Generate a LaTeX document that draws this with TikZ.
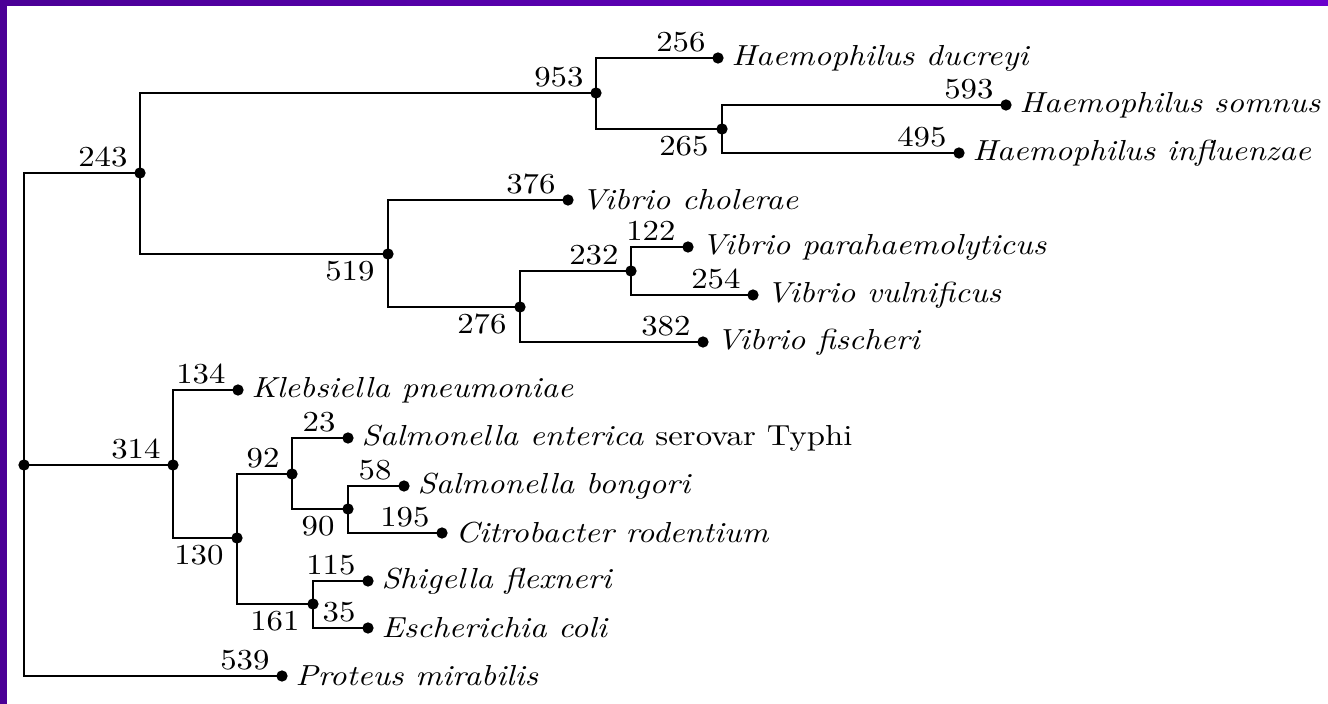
\documentclass[tikz,border=0pt]{standalone}
\usepackage{graphicx}
\definecolor{pleft}{HTML}{4B0096}
\definecolor{pright}{HTML}{6A00CC}
\newcommand{\sxt}[1]{\scalebox{1.13}[1]{#1}}
\tikzset{
  branch/.style={line width=0.69pt, black},
  dotnode/.style={circle, fill=black, inner sep=0pt, minimum size=3.9pt},
  taxon/.style={anchor=west, inner sep=0pt, font=\itshape},
  num/.style={anchor=base east, inner sep=0pt},
}
\begin{document}
\begin{tikzpicture}[x=0.345pt, y=-0.345pt]
\useasboundingbox (0,0) rectangle (1328,704);
\fill[white] (0,0) rectangle (1328,704);
\shade[left color=pleft, right color=pright] (0,0) rectangle (1328,6);
\fill[pleft] (0,0) rectangle (7,704);

% tree nodes
\node[dotnode] (root) at (24,465) {};
\node[dotnode] (n243) at (140,173) {};
\node[dotnode] (n953) at (596,93) {};
\node[dotnode] (duc) at (718,58) {};
\node[dotnode] (n265) at (722,129) {};
\node[dotnode] (som) at (1006,105) {};
\node[dotnode] (inf) at (959,153) {};
\node[dotnode] (n519) at (388,254) {};
\node[dotnode] (chol) at (568,200) {};
\node[dotnode] (n276) at (520,307) {};
\node[dotnode] (n232) at (631,271) {};
\node[dotnode] (para) at (688,247) {};
\node[dotnode] (vuln) at (753,295) {};
\node[dotnode] (fisch) at (703,342) {};
\node[dotnode] (n314) at (173,465) {};
\node[dotnode] (kleb) at (238,390) {};
\node[dotnode] (n130) at (237,538) {};
\node[dotnode] (n92) at (292,474) {};
\node[dotnode] (sent) at (348,438) {};
\node[dotnode] (n90) at (348,509) {};
\node[dotnode] (bong) at (404,486) {};
\node[dotnode] (citro) at (442,533) {};
\node[dotnode] (n161) at (313,604) {};
\node[dotnode] (shig) at (368,581) {};
\node[dotnode] (ecoli) at (368,628) {};
\node[dotnode] (prot) at (282,676) {};

% branches
\draw[branch] (root.center) |- (n243.center);
\draw[branch] (root.center) -- (n314.center);
\draw[branch] (root.center) |- (prot.center);
\draw[branch] (n243.center) |- (n953.center);
\draw[branch] (n243.center) |- (n519.center);
\draw[branch] (n953.center) |- (duc.center);
\draw[branch] (n953.center) |- (n265.center);
\draw[branch] (n265.center) |- (som.center);
\draw[branch] (n265.center) |- (inf.center);
\draw[branch] (n519.center) |- (chol.center);
\draw[branch] (n519.center) |- (n276.center);
\draw[branch] (n276.center) |- (n232.center);
\draw[branch] (n276.center) |- (fisch.center);
\draw[branch] (n232.center) |- (para.center);
\draw[branch] (n232.center) |- (vuln.center);
\draw[branch] (n314.center) |- (kleb.center);
\draw[branch] (n314.center) |- (n130.center);
\draw[branch] (n130.center) |- (n92.center);
\draw[branch] (n130.center) |- (n161.center);
\draw[branch] (n92.center) |- (sent.center);
\draw[branch] (n92.center) |- (n90.center);
\draw[branch] (n90.center) |- (bong.center);
\draw[branch] (n90.center) |- (citro.center);
\draw[branch] (n161.center) |- (shig.center);
\draw[branch] (n161.center) |- (ecoli.center);

% branch numbers above
\node[num] (l243) at (128,167) {\sxt{243}};
\node[num] (l953) at (584,87) {\sxt{953}};
\node[num] (l256) at (706,52) {\sxt{256}};
\node[num] (l593) at (994,99) {\sxt{593}};
\node[num] (l495) at (947,147) {\sxt{495}};
\node[num] (l376) at (556,194) {\sxt{376}};
\node[num] (l232) at (619,265) {\sxt{232}};
\node[num] (l122) at (676,241) {\sxt{122}};
\node[num] (l254) at (741,289) {\sxt{254}};
\node[num] (l382) at (691,336) {\sxt{382}};
\node[num] (l314) at (161,459) {\sxt{314}};
\node[num] (l134) at (226,384) {\sxt{134}};
\node[num] (l92) at (280,468) {\sxt{92}};
\node[num] (l23) at (336,432) {\sxt{23}};
\node[num] (l58) at (392,480) {\sxt{58}};
\node[num] (l195) at (430,527) {\sxt{195}};
\node[num] (l115) at (356,575) {\sxt{115}};
\node[num] (l35) at (356,622) {\sxt{35}};
\node[num] (l539) at (270,670) {\sxt{539}};
% branch numbers below
\node[num] (l519) at (375,281) {\sxt{519}};
\node[num] (l265) at (709,156) {\sxt{265}};
\node[num] (l276) at (507,334) {\sxt{276}};
\node[num] (l130) at (224,565) {\sxt{130}};
\node[num] (l90) at (335,536) {\sxt{90}};
\node[num] (l161) at (300,631) {\sxt{161}};

% taxa
\node[taxon] (tduc) at (731,58) {\sxt{Haemophilus ducreyi}};
\node[taxon] (tsom) at (1019,105) {\sxt{Haemophilus somnus}};
\node[taxon] (tinf) at (972,153) {\sxt{Haemophilus influenzae}};
\node[taxon] (tchol) at (581,200) {\sxt{Vibrio cholerae}};
\node[taxon] (tpara) at (701,247) {\sxt{Vibrio parahaemolyticus}};
\node[taxon] (tvuln) at (766,295) {\sxt{Vibrio vulnificus}};
\node[taxon] (tfisch) at (716,342) {\sxt{Vibrio fischeri}};
\node[taxon] (tkleb) at (251,390) {\sxt{Klebsiella pneumoniae}};
\node[taxon] (tsent) at (361,438) {\sxt{Salmonella enterica \textup{serovar Typhi}}};
\node[taxon] (tbong) at (417,486) {\sxt{Salmonella bongori}};
\node[taxon] (tcitro) at (455,533) {\sxt{Citrobacter rodentium}};
\node[taxon] (tshig) at (381,581) {\sxt{Shigella flexneri}};
\node[taxon] (tecoli) at (381,628) {\sxt{Escherichia coli}};
\node[taxon] (tprot) at (295,676) {\sxt{Proteus mirabilis}};
\end{tikzpicture}
\end{document}
